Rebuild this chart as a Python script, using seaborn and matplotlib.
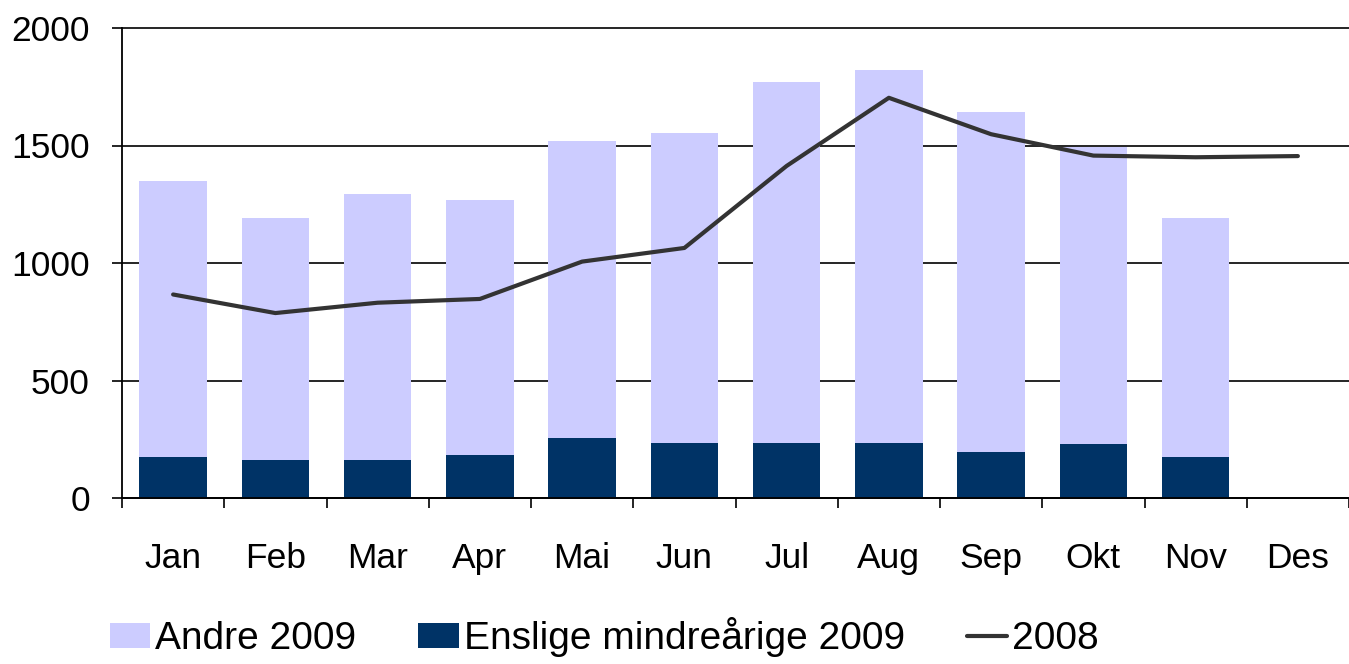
import numpy as np
import pandas as pd
import matplotlib
matplotlib.use("Agg")
import matplotlib.pyplot as plt
import seaborn as sns
from matplotlib.ticker import FixedLocator
from matplotlib.patches import Patch
from matplotlib.lines import Line2D

# ---- data ----
months = ["Jan", "Feb", "Mar", "Apr", "Mai", "Jun", "Jul", "Aug", "Sep", "Okt", "Nov", "Des"]
enslige_2009 = [176, 162, 163, 183, 255, 234, 234, 234, 196, 228, 176]
andre_2009 = [1174, 1028, 1129, 1085, 1263, 1319, 1538, 1589, 1445, 1267, 1014]
line_2008 = [866, 787, 831, 847, 1006, 1064, 1413, 1703, 1548, 1457, 1450, 1455]
y_ticks = [0, 500, 1000, 1500, 2000]

LIGHT = "#CCCCFF"
DARK = "#003366"
LINE = "#333333"

sns.set_theme(style="white")
plt.rcParams["font.family"] = ["Liberation Sans", "DejaVu Sans"]
plt.rcParams["text.color"] = "black"

fig = plt.figure(figsize=(13.49, 6.64), dpi=100)
ax = fig.add_axes([122 / 1349, 166 / 664, 1 - 122 / 1349, (498 - 28) / 664])

n_bar = len(andre_2009)
df = pd.DataFrame({
    "month": months[:n_bar],
    "total": np.array(andre_2009) + np.array(enslige_2009),
    "enslige": enslige_2009,
})

sns.barplot(data=df, x="month", y="total", order=months, color=LIGHT,
            saturation=1, width=0.66, linewidth=0, ax=ax, zorder=2)
sns.barplot(data=df, x="month", y="enslige", order=months, color=DARK,
            saturation=1, width=0.66, linewidth=0, ax=ax, zorder=3)

pos = np.arange(len(months))
sns.lineplot(x=pos[:len(line_2008)], y=line_2008, color=LINE, linewidth=3,
             sort=False, ax=ax, zorder=4)

ax.set_xlim(-0.5, len(months) - 0.5)
ax.set_ylim(0, 2000)
ax.set_yticks(y_ticks)
ax.set_yticklabels([str(v) for v in y_ticks])
ax.set_xticks(pos)
ax.set_xticklabels(months)
ax.xaxis.set_minor_locator(FixedLocator(np.arange(-0.5, len(months), 1.0)))
ax.set_xlabel("")
ax.set_ylabel("")

ax.yaxis.grid(True, color="black", linewidth=1.2, zorder=1)
ax.xaxis.grid(False)
ax.set_axisbelow(True)
for gl in ax.get_ygridlines():
    gl.set_clip_on(False)

for s in ["top", "right"]:
    ax.spines[s].set_visible(False)
for s in ["left", "bottom"]:
    ax.spines[s].set_visible(True)
    ax.spines[s].set_color("black")
    ax.spines[s].set_linewidth(1.3)
    ax.spines[s].set_zorder(5)

ax.tick_params(axis="y", which="major", direction="out", length=7.2, width=1.2,
               color="black", labelsize=25.5, pad=16, left=True, labelcolor="black")
ax.tick_params(axis="x", which="major", length=0, labelsize=25.5, pad=32, bottom=True,
               labelcolor="black")
ax.tick_params(axis="x", which="minor", direction="out", length=7.2, width=1.2,
               color="black", bottom=True)

handles = [
    Patch(facecolor=LIGHT, edgecolor="none", label="Andre 2009"),
    Patch(facecolor=DARK, edgecolor="none", label="Enslige mindreårige 2009"),
    Line2D([0], [0], color=LINE, linewidth=3, label="2008"),
]
leg = fig.legend(handles=handles, loc="center left", bbox_to_anchor=(110 / 1349, 27 / 664),
                 ncol=3, frameon=False, fontsize=28, handlelength=1.03, handleheight=0.6,
                 handletextpad=0.13, columnspacing=1.6, borderpad=0, borderaxespad=0)
for t in leg.get_texts():
    t.set_color("black")

fig.savefig("out.png", dpi=100)
